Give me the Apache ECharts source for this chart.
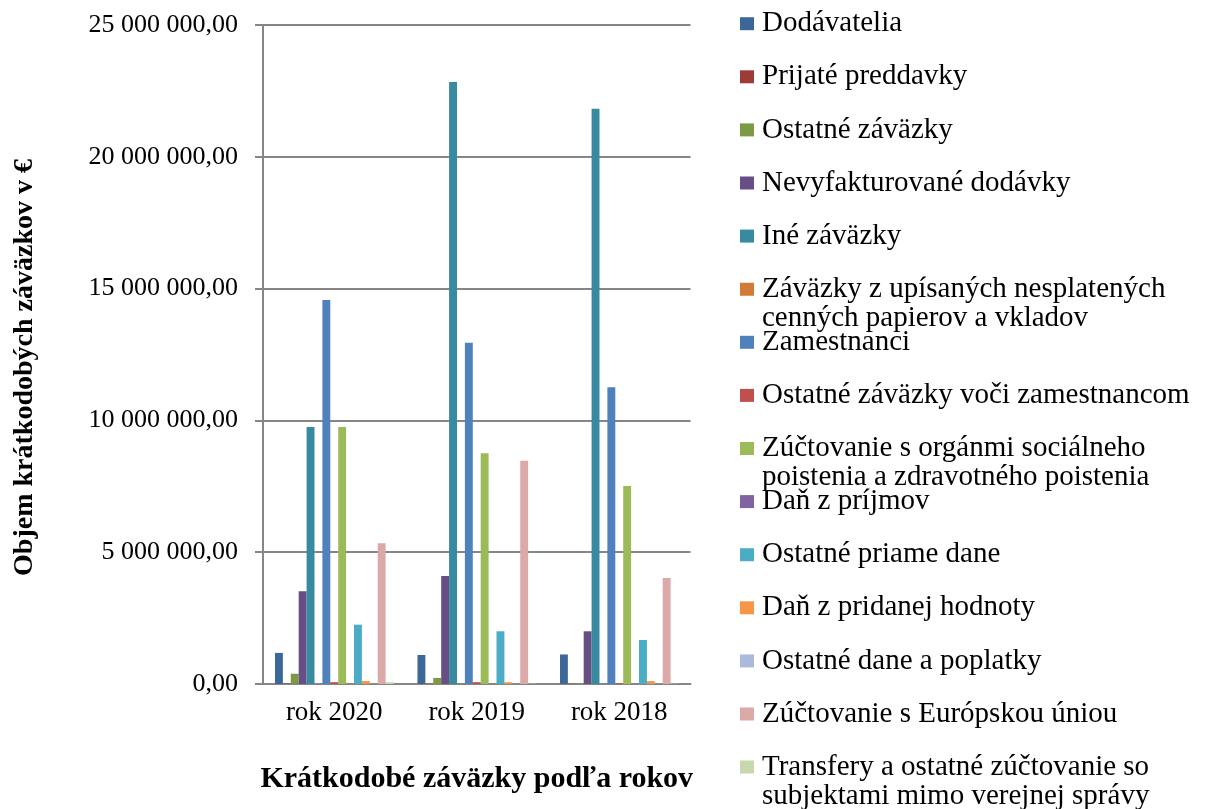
<!DOCTYPE html>
<html>
<head>
<meta charset="utf-8">
<script src="https://cdn.jsdelivr.net/npm/echarts@6/dist/echarts.min.js"></script>
<style>
html, body { margin: 0; padding: 0; background: #fff; }
#chart { width: 1206px; height: 809px; }
</style>
</head>
<body>
<div id="chart"></div>
<script>
// ---- Data ----
const categories = ['rok 2020', 'rok 2019', 'rok 2018'];
const yTicks = [0, 5000000, 10000000, 15000000, 20000000, 25000000];

const seriesNames = [
  'Dodávatelia',
  'Prijaté preddavky',
  'Ostatné záväzky',
  'Nevyfakturované dodávky',
  'Iné záväzky',
  'Záväzky z upísaných nesplatených cenných papierov a vkladov',
  'Zamestnanci',
  'Ostatné záväzky voči zamestnancom',
  'Zúčtovanie s orgánmi sociálneho poistenia a zdravotného poistenia',
  'Daň z príjmov',
  'Ostatné priame dane',
  'Daň z pridanej hodnoty',
  'Ostatné dane a poplatky',
  'Zúčtovanie s Európskou úniou',
  'Transfery a ostatné zúčtovanie so subjektami mimo verejnej správy'
];

const dodavatelia        = [1180000, 1100000, 1120000];
const prijatePreddavky   = [15000, 12000, 10000];
const ostatneZavazky     = [390000, 230000, 20000];
const nevyfakturovane    = [3520000, 4100000, 2000000];
const ineZavazky         = [9750000, 22840000, 21820000];
const upisaneCP          = [0, 0, 0];
const zamestnanci        = [14570000, 12950000, 11260000];
const ostatneVociZam     = [70000, 70000, 30000];
const zuctovanieSocZdr   = [9750000, 8750000, 7510000];
const danZPrijmov        = [0, 0, 0];
const ostatnePriameDane  = [2250000, 2000000, 1670000];
const danZPridanejHod    = [110000, 70000, 110000];
const ostatneDane        = [5000, 5000, 5000];
const zuctovanieEU       = [5340000, 8470000, 4020000];
const transfery          = [70000, 10000, 10000];

const seriesValues = [
  dodavatelia, prijatePreddavky, ostatneZavazky, nevyfakturovane, ineZavazky,
  upisaneCP, zamestnanci, ostatneVociZam, zuctovanieSocZdr, danZPrijmov,
  ostatnePriameDane, danZPridanejHod, ostatneDane, zuctovanieEU, transfery
];

// legend display lines (two-line labels wrap as in the original)
const legendLines = [
  ['Dodávatelia'],
  ['Prijaté preddavky'],
  ['Ostatné záväzky'],
  ['Nevyfakturované dodávky'],
  ['Iné záväzky'],
  ['Záväzky z upísaných nesplatených', 'cenných papierov a vkladov'],
  ['Zamestnanci'],
  ['Ostatné záväzky voči zamestnancom'],
  ['Zúčtovanie s orgánmi sociálneho', 'poistenia a zdravotného poistenia'],
  ['Daň z príjmov'],
  ['Ostatné priame dane'],
  ['Daň z pridanej hodnoty'],
  ['Ostatné dane a poplatky'],
  ['Zúčtovanie s Európskou úniou'],
  ['Transfery a ostatné zúčtovanie so', 'subjektami mimo verejnej správy']
];

// ---- Styles ----
const colors = [
  '#3C6899', '#9C3B38', '#7C9A44', '#674F86', '#378A9F', '#D07C34',
  '#4F81BD', '#C0504D', '#9BBB59', '#8064A2', '#4BACC6', '#F79646',
  '#A9BADB', '#DBA9A8', '#C8D8AE'
];
const FONT = '"Liberation Serif", "Times New Roman", serif';

function fmtNum(v) {
  const s = Math.round(v).toString().replace(/\B(?=(\d{3})+(?!\d))/g, ' ');
  return s + ',00';
}

const series = seriesNames.map((name, i) => ({
  name: name,
  type: 'bar',
  data: seriesValues[i],
  barGap: '0%',
  barCategoryGap: '16.8%',
  itemStyle: { color: colors[i] },
  emphasis: { disabled: true }
}));

const legends = seriesNames.map((name, i) => {
  const lines = legendLines[i];
  const rowCenter = 23.7 + 53.1 * i;
  const twoLine = lines.length > 1;
  return {
    data: [name],
    orient: 'vertical',
    left: 740,
    top: rowCenter - 14.5,
    padding: 0,
    itemWidth: 14,
    itemHeight: twoLine ? 58 : 13,
    icon: twoLine
      ? 'path://M0 8h14v13h-14Z M0 0h0.01v0.01h-0.01Z M0 57.99h0.01v0.01h-0.01Z'
      : 'rect',
    selectedMode: false,
    formatter: () => lines.join('\n'),
    textStyle: {
      fontFamily: FONT,
      fontSize: 29,
      lineHeight: 29,
      color: '#000',
      padding: [0, 0, 0, 3]
    }
  };
});

const option = {
  animation: false,
  backgroundColor: '#fff',
  color: colors,
  grid: { left: 263, right: 515.5, top: 25, bottom: 125, containLabel: false },
  legend: legends,
  xAxis: {
    type: 'category',
    data: categories,
    name: 'Krátkodobé záväzky podľa rokov',
    nameLocation: 'middle',
    nameGap: 80,
    nameTextStyle: { fontFamily: FONT, fontSize: 30, fontWeight: 'bold', color: '#000', lineHeight: 30 },
    axisLine: { lineStyle: { color: '#868686', width: 2 } },
    axisTick: { show: false },
    axisLabel: { fontFamily: FONT, fontSize: 27, color: '#000', margin: 15, lineHeight: 27 }
  },
  yAxis: {
    type: 'value',
    min: 0,
    max: 25000000,
    interval: 5000000,
    name: 'Objem krátkodobých záväzkov v €',
    nameLocation: 'middle',
    nameGap: 224,
    nameTextStyle: { fontFamily: FONT, fontSize: 28, fontWeight: 'bold', color: '#000', padding: [0, 26, 0, 0] },
    axisLine: { show: true, lineStyle: { color: '#868686', width: 2 } },
    axisTick: { show: true, inside: false, length: 8, lineStyle: { color: '#868686', width: 2 } },
    axisLabel: {
      fontFamily: FONT, fontSize: 26, color: '#000', margin: 25,
      formatter: (v) => yTicks.indexOf(v) >= 0 ? fmtNum(v) : ''
    },
    splitLine: { show: true, lineStyle: { color: '#868686', width: 2 } }
  },
  series: series
};

const chart = echarts.init(document.getElementById('chart'), null, { renderer: 'canvas' });
chart.setOption(option);
</script>
</body>
</html>
